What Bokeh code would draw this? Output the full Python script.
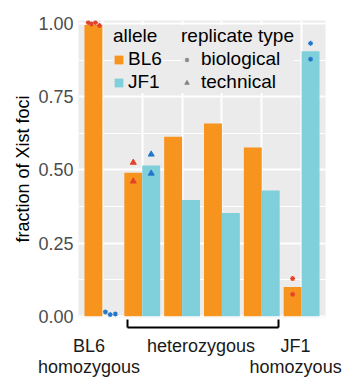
from bokeh.plotting import figure
from bokeh.models import (ColumnDataSource, FixedTicker, NumeralTickFormatter, Legend,
                          LegendItem, LinearAxis)
from bokeh.transform import dodge
from bokeh.embed import file_html
from bokeh.resources import INLINE

# ---------------- data ----------------
group_pos = [1, 2, 3, 4, 5, 6]
bl6_frac = [0.995, 0.49, 0.613, 0.658, 0.576, 0.10]
jf1_frac = [0.0, 0.515, 0.397, 0.353, 0.43, 0.905]

pt_group = [1, 1, 1, 1, 1, 1, 1, 2, 2, 2, 2, 6, 6, 6, 6]
pt_allele = ["BL6"] * 4 + ["JF1"] * 3 + ["BL6"] * 2 + ["JF1"] * 2 + ["BL6"] * 2 + ["JF1"] * 2
pt_type = ["biological"] * 7 + ["technical"] * 4 + ["biological"] * 4
pt_value = [1.003, 0.998, 1.003, 0.993, 0.015, 0.006, 0.008,
            0.525, 0.461, 0.553, 0.488, 0.129, 0.075, 0.932, 0.878]
pt_jitter = [-0.13, -0.05, 0.05, 0.15, -0.15, -0.03, 0.10,
             0, 0, 0, 0, 0, 0, 0, 0]

y_ticks = [0.0, 0.25, 0.5, 0.75, 1.0]
y_minor = [0.125, 0.375, 0.625, 0.875]
alleles = ["BL6", "JF1"]
rep_types = ["biological", "technical"]
genotype_pos = [0.664, 3.475, 5.85]
genotype_line1 = ["BL6", "heterozygous", "JF1"]
genotype_line2 = ["homozygous", "", "homozyous"]
het_span = (2, 5)

# ---------------- style ----------------
FONT = "Liberation Sans"
ORANGE = "#F7941E"
TEAL = "#80D0DB"
PT_COL = {"BL6": "#E2432A", "JF1": "#2377C9"}
LEG_GREY = "#858585"
PANEL = "#EBEBEB"
DODGE = 0.225

p = figure(width=348, height=379, output_backend="svg", toolbar_location=None,
           x_range=(0.4, 6.6), y_range=(-0.004, 1.01),
           min_border_left=78, min_border_right=23, min_border_top=20, min_border_bottom=10)
p.background_fill_color = PANEL
p.border_fill_color = "white"
p.outline_line_color = None

src = ColumnDataSource(dict(x=group_pos, bl6=bl6_frac, jf1=jf1_frac))
r_bl6 = p.vbar(x=dodge("x", -DODGE, range=p.x_range), top="bl6", width=0.45, source=src,
               fill_color=ORANGE, line_color=None)
r_jf1 = p.vbar(x=dodge("x", DODGE, range=p.x_range), top="jf1", width=0.45, source=src,
               fill_color=TEAL, line_color=None)

# points
px = [g + (-DODGE if a == "BL6" else DODGE) + j for g, a, j in zip(pt_group, pt_allele, pt_jitter)]
pcol = [PT_COL[a] for a in pt_allele]
bio = dict(x=[], y=[], c=[])
tec = dict(x=[], y=[], c=[])
for xx, yy, cc, tt in zip(px, pt_value, pcol, pt_type):
    d = bio if tt == "biological" else tec
    d["x"].append(xx); d["y"].append(yy); d["c"].append(cc)
bio_src = ColumnDataSource(bio)
tec_src = ColumnDataSource(tec)
p.scatter(x="x", y="y", source=bio_src, marker="asterisk", size=5,
          line_color="c", line_width=1.2)
p.scatter(x="x", y="y", source=tec_src, marker="triangle", size=6,
          fill_color="c", line_color="c")

# legend-only (hidden) renderers in neutral grey
r_bio_leg = p.scatter(x="x", y="y", source=bio_src, marker="asterisk", size=5,
                      line_color=LEG_GREY, line_width=1.2, visible=False)
r_tec_leg = p.scatter(x="x", y="y", source=tec_src, marker="triangle", size=6,
                      fill_color=LEG_GREY, line_color=LEG_GREY, visible=False)

# ---- x: spacer axis (closest to panel) ----
xa = p.xaxis[0]
xa.ticker = FixedTicker(ticks=[3.5])
xa.axis_line_color = None
xa.major_tick_line_color = None
xa.minor_tick_line_color = None
xa.major_tick_out = 10
xa.major_tick_in = 0
xa.minor_tick_out = 0
xa.minor_tick_in = 0
xa.major_label_text_font_size = "1px"
xa.major_label_text_alpha = 0
xa.major_label_standoff = 0

p.xgrid.ticker = FixedTicker(ticks=group_pos)
p.xgrid.grid_line_color = "white"
p.xgrid.grid_line_width = 2

# ---- bracket axis ----
bx0 = het_span[0] - 0.37
bx1 = het_span[1] + 0.42
ax_br = LinearAxis(ticker=FixedTicker(ticks=[], minor_ticks=[bx0 + 0.01, bx1 - 0.01]),
                   bounds=(bx0, bx1), axis_line_color="black", axis_line_width=2,
                   major_tick_line_color=None, major_tick_out=0, major_tick_in=0,
                   minor_tick_line_color="black", minor_tick_line_width=2,
                   minor_tick_in=8, minor_tick_out=0,
                   major_label_text_font_size="0px", major_label_standoff=0)
p.add_layout(ax_br, "below")


# ---- genotype label axes (two text lines) ----
def label_axis(texts, standoff):
    return LinearAxis(ticker=FixedTicker(ticks=genotype_pos),
                      major_label_overrides={k: v for k, v in zip(genotype_pos, texts)},
                      axis_line_color=None, major_tick_line_color=None, minor_tick_line_color=None,
                      major_tick_out=0, major_tick_in=0, minor_tick_out=0, minor_tick_in=0,
                      major_label_standoff=standoff, major_label_text_font=FONT,
                      major_label_text_font_size="18px", major_label_text_color="#1A1A1A")


p.add_layout(label_axis(genotype_line1, 8), "below")
p.add_layout(label_axis(genotype_line2, -2), "below")

# ---- y axis ----
p.yaxis.ticker = FixedTicker(ticks=y_ticks, minor_ticks=y_minor)
p.yaxis.formatter = NumeralTickFormatter(format="0.00")
p.yaxis.axis_label = "fraction of Xist foci"
p.yaxis.axis_label_text_font = FONT
p.yaxis.axis_label_text_font_size = "18px"
p.yaxis.axis_label_text_font_style = "normal"
p.yaxis.axis_label_text_color = "black"
p.yaxis.axis_label_standoff = 2
p.yaxis.major_label_text_font = FONT
p.yaxis.major_label_text_font_size = "18px"
p.yaxis.major_label_text_color = "#4D4D4D"
p.yaxis.major_label_standoff = 5
p.yaxis.axis_line_color = None
p.yaxis.major_tick_line_color = None
p.yaxis.minor_tick_line_color = None
p.yaxis.major_tick_out = 0
p.yaxis.minor_tick_out = 0
p.ygrid.grid_line_color = "white"
p.ygrid.grid_line_width = 2
p.ygrid.minor_grid_line_color = "white"
p.ygrid.minor_grid_line_width = 1


def style_legend(lg, standoff):
    lg.title_text_font = FONT
    lg.title_text_font_size = "19px"
    lg.title_text_font_style = "normal"
    lg.title_text_color = "black"
    lg.label_text_font = FONT
    lg.label_text_font_size = "19px"
    lg.label_text_color = "black"
    lg.glyph_width = 11
    lg.glyph_height = 11
    lg.label_standoff = standoff
    lg.label_height = 20
    lg.spacing = 1
    lg.padding = 0
    lg.margin = 0
    lg.title_standoff = 1
    lg.border_line_color = None
    lg.background_fill_color = PANEL
    lg.background_fill_alpha = 1
    lg.inactive_fill_alpha = 0


leg1 = Legend(items=[LegendItem(label=alleles[0], renderers=[r_bl6]),
                     LegendItem(label=alleles[1], renderers=[r_jf1])],
              title="allele", location=(35, 224))
leg2 = Legend(items=[LegendItem(label=rep_types[0], renderers=[r_bio_leg]),
                     LegendItem(label=rep_types[1], renderers=[r_tec_leg])],
              title="replicate type", location=(103, 224))
style_legend(leg1, 4)
style_legend(leg2, 9)
p.add_layout(leg1)
p.add_layout(leg2)

open("out.html", "w").write(file_html(p, INLINE))
